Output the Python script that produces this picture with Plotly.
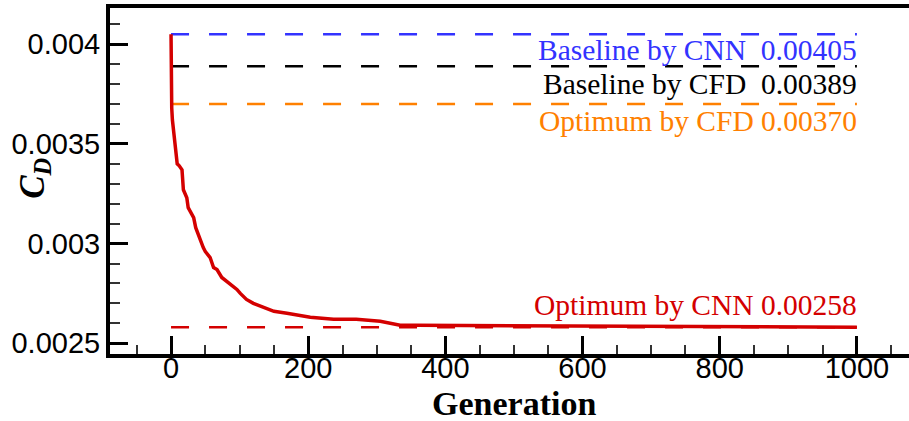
import plotly.graph_objects as go

# ---- data ----
generation = [0, 0, 1, 2, 3, 6, 9, 12, 16, 18, 23, 25, 30, 33, 36, 42, 47, 50, 57, 62, 67,
              74, 81, 86, 96, 101, 110, 120, 135, 150, 169, 203, 237, 270, 305, 320, 334,
              358, 450, 600, 800, 1000]
cd_optim = [0.00405, 0.00370, 0.00368, 0.00362, 0.00359, 0.00349, 0.00340, 0.00339, 0.00337,
            0.00327, 0.00323, 0.00318, 0.00315, 0.00313, 0.00308, 0.00302, 0.00298, 0.00296,
            0.00293, 0.00288, 0.00287, 0.00283, 0.00281, 0.00280, 0.00277, 0.00275, 0.00272,
            0.00270, 0.00268, 0.00266, 0.00265, 0.00263, 0.00262, 0.00262, 0.00261, 0.00260,
            0.00259, 0.00259, 0.002588, 0.002585, 0.00258, 0.00258]

ref_names = ["Baseline by CNN", "Baseline by CFD", "Optimum by CFD", "Optimum by CNN"]
ref_values = [0.00405, 0.00389, 0.00370, 0.00258]
ref_labels = ["Baseline by CNN  0.00405", "Baseline by CFD  0.00389",
              "Optimum by CFD 0.00370", "Optimum by CNN 0.00258"]
ref_colors = ["#3333ff", "#000000", "#ff8000", "#d40000"]
ref_label_y = [0.003972, 0.003800, 0.003614, 0.002693]
ref_span = [0, 1000]

x_tickvals = [0, 200, 400, 600, 800, 1000]
x_ticktext = ["0", "200", "400", "600", "800", "1000"]
y_tickvals = [0.0025, 0.003, 0.0035, 0.004]
y_ticktext = ["0.0025", "0.003", "0.0035", "0.004"]

fig = go.Figure()

for name, val, col in zip(ref_names, ref_values, ref_colors):
    fig.add_trace(go.Scatter(
        x=ref_span, y=[val, val], mode="lines", name=name,
        line=dict(color=col, width=2.5, dash="18px,20px"), showlegend=False))

fig.add_trace(go.Scatter(
    x=generation, y=cd_optim, mode="lines", name="CNN optimisation",
    line=dict(color="#d40000", width=3.5), showlegend=False))

for lab, ly, col in zip(ref_labels, ref_label_y, ref_colors):
    fig.add_annotation(x=1003, y=ly, xref="x", yref="y", text=lab, showarrow=False,
                       xanchor="right", yanchor="middle",
                       font=dict(family="Liberation Serif", size=29.5, color=col))

fig.add_annotation(x=0.5056, y=-0.143, xref="paper", yref="paper",
                   text="<b>Generation</b>", showarrow=False,
                   xanchor="center", yanchor="middle",
                   font=dict(family="Liberation Serif", size=34, color="black"))
fig.add_annotation(x=-0.094, y=0.509, xref="paper", yref="paper",
                   text="<b><i>C</i></b><sub><b><i>D</i></b></sub>", showarrow=False,
                   textangle=-90, xanchor="center", yanchor="middle",
                   font=dict(family="Liberation Serif", size=35, color="black"))

fig.update_layout(
    width=909, height=421,
    margin=dict(l=110, r=0, t=8, b=67),
    paper_bgcolor="white", plot_bgcolor="white",
    font=dict(family="Liberation Sans", size=29, color="black"),
)
fig.update_xaxes(
    range=[-89, 1076], showgrid=False, zeroline=False,
    showline=True, linewidth=4, linecolor="black", mirror=True,
    ticks="inside", ticklen=18, tickwidth=3, tickcolor="black",
    tickvals=x_tickvals, ticktext=x_ticktext, ticklabelstandoff=-15,
    tickfont=dict(family="Liberation Sans", size=29, color="black"),
    minor=dict(ticks="inside", ticklen=9, tickwidth=1.5, tickcolor="#333333",
               dtick=50, tick0=0, showgrid=False),
)
fig.update_yaxes(
    range=[0.002446, 0.004182], showgrid=False, zeroline=False,
    showline=True, linewidth=4, linecolor="black", mirror=False,
    ticks="inside", ticklen=18, tickwidth=3, tickcolor="black",
    tickvals=y_tickvals, ticktext=y_ticktext,
    tickfont=dict(family="Liberation Sans", size=29, color="black"),
    minor=dict(ticks="inside", ticklen=10, tickwidth=1.5, tickcolor="#333333",
               dtick=0.0001, tick0=0.0025, showgrid=False),
)

fig.write_html("out.html")
